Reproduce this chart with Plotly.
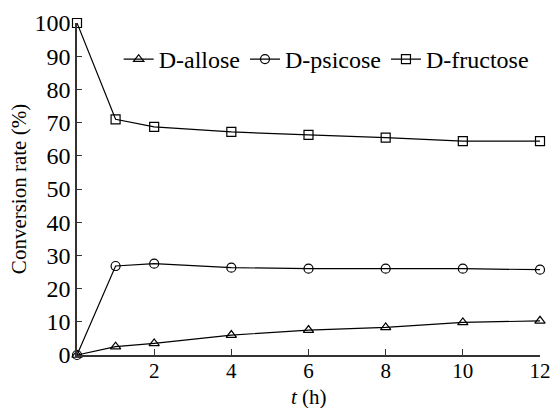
import plotly.graph_objects as go

time_h = [0, 1, 2, 4, 6, 8, 10, 12]
allose = [0, 2.5, 3.5, 6.0, 7.5, 8.3, 9.8, 10.3]
psicose = [0, 26.8, 27.5, 26.3, 26.0, 26.0, 26.0, 25.7]
fructose = [100, 71.0, 68.7, 67.2, 66.3, 65.5, 64.4, 64.4]
x_ticks = [2, 4, 6, 8, 10, 12]
y_ticks = list(range(0, 101, 10))

font = "Liberation Serif, Times New Roman, serif"
fig = go.Figure()
for name, vals, sym in [("D-allose", allose, "triangle-up-open"),
                        ("D-psicose", psicose, "circle-open"),
                        ("D-fructose", fructose, "square-open")]:
    fig.add_trace(go.Scatter(
        x=time_h, y=vals, name=name, mode="lines+markers",
        line=dict(color="black", width=1.2),
        marker=dict(symbol=sym, size=9, color="black", line=dict(width=1.2)),
        cliponaxis=False))

fig.update_layout(
    width=553, height=408,
    margin=dict(l=77, r=13, t=23, b=53),
    paper_bgcolor="white", plot_bgcolor="white",
    font=dict(family=font, size=22, color="black"),
    showlegend=True,
    legend=dict(orientation="h", x=0.09, y=0.89, xanchor="left", yanchor="middle",
                bgcolor="rgba(0,0,0,0)", font=dict(size=24), itemwidth=30,
                tracegroupgap=0),
    annotations=[dict(text="<i>t</i> (h)", xref="paper", yref="paper",
                      x=0.5, y=-0.128, xanchor="center", yanchor="middle",
                      showarrow=False, font=dict(size=21))],
)
fig.update_xaxes(range=[0, 12], tickvals=x_ticks, ticks="inside", ticklen=6,
                 showline=True, linecolor="#333", linewidth=1.5, tickcolor="#333",
                 showgrid=False, zeroline=False, automargin=False,
                 tickfont=dict(size=21), ticklabelstandoff=-4)
fig.update_yaxes(range=[0, 100], tickvals=y_ticks, ticks="inside", ticklen=5,
                 showline=True, linecolor="#333", linewidth=1.5, tickcolor="#333",
                 showgrid=False, zeroline=False, automargin=False,
                 tickfont=dict(size=24),
                 title=dict(text="Conversion rate (%)", standoff=2, font=dict(size=21)))
fig.write_html("out.html")
